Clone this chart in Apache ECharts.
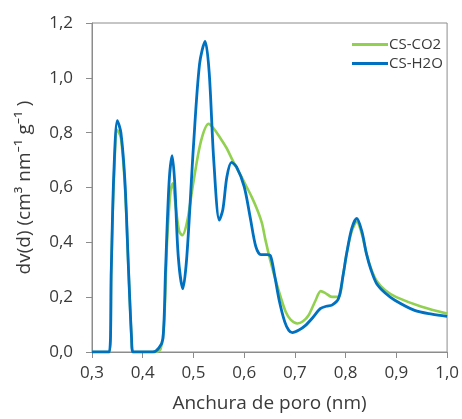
<!DOCTYPE html>
<html>
<head>
<meta charset="utf-8">
<script src="https://cdn.jsdelivr.net/npm/echarts@6/dist/echarts.min.js"></script>
<style>html,body{margin:0;padding:0;background:#fff}#c{width:462px;height:419px}</style>
</head>
<body>
<div id="c"></div>
<script>
const seriesNames = ["CS-CO2", "CS-H2O"];
const xTicks = [0.3, 0.4, 0.5, 0.6, 0.7, 0.8, 0.9, 1.0];
const yTicks = [0.0, 0.2, 0.4, 0.6, 0.8, 1.0, 1.2];

const co2X = [0.30,0.334,0.338,0.343,0.350,0.357,0.365,0.372,0.378,0.381,0.425,0.435,0.442,0.448,0.455,0.459,0.465,0.472,0.478,0.488,0.500,0.515,0.530,0.540,0.551,0.565,0.577,0.590,0.603,0.615,0.626,0.635,0.642,0.652,0.662,0.672,0.682,0.692,0.705,0.716,0.727,0.740,0.751,0.760,0.773,0.786,0.795,0.802,0.812,0.822,0.832,0.841,0.850,0.861,0.878,0.900,0.950,1.0];
const co2Y = [0,0,0.3,0.62,0.81,0.78,0.60,0.3,0.05,0,0,0.01,0.1,0.4,0.59,0.615,0.53,0.44,0.426,0.48,0.62,0.77,0.832,0.815,0.786,0.745,0.70,0.655,0.609,0.565,0.518,0.47,0.408,0.33,0.262,0.2,0.146,0.117,0.104,0.112,0.134,0.185,0.222,0.215,0.201,0.201,0.28,0.359,0.44,0.475,0.43,0.36,0.305,0.26,0.225,0.20,0.165,0.140];

const h2oX = [0.30,0.334,0.338,0.343,0.350,0.357,0.365,0.372,0.378,0.381,0.42,0.432,0.440,0.445,0.452,0.458,0.463,0.470,0.479,0.487,0.500,0.512,0.523,0.531,0.540,0.551,0.558,0.566,0.575,0.585,0.600,0.612,0.623,0.633,0.645,0.652,0.660,0.669,0.680,0.688,0.695,0.708,0.721,0.735,0.750,0.762,0.773,0.786,0.795,0.802,0.812,0.822,0.832,0.841,0.850,0.861,0.878,0.897,0.936,0.97,1.0];
const h2oY = [0,0,0.3,0.65,0.844,0.80,0.62,0.3,0.05,0,0,0.015,0.05,0.3,0.62,0.716,0.62,0.35,0.231,0.35,0.75,1.05,1.133,1.02,0.70,0.481,0.52,0.64,0.692,0.675,0.603,0.49,0.384,0.355,0.355,0.350,0.28,0.189,0.11,0.079,0.071,0.08,0.097,0.125,0.158,0.167,0.171,0.195,0.28,0.359,0.45,0.487,0.44,0.359,0.30,0.25,0.215,0.189,0.152,0.138,0.130];

const zip = (xs, ys) => xs.map((x, i) => [x, ys[i]]);
const fmt = v => v.toFixed(1).replace('.', ',');
const FONT = "'Open Sans', 'Noto Sans', sans-serif";
const axisGray = '#8c8c8c';
const textColor = '#3a3a3a';

const chart = echarts.init(document.getElementById('c'), null, {renderer: 'canvas'});
chart.setOption({
  animation: false,
  backgroundColor: '#fff',
  grid: {left: 92, right: 13, top: 23, bottom: 67, show: true, borderColor: axisGray, borderWidth: 1},
  legend: {
    orient: 'vertical', left: 347, top: 32,
    itemWidth: 36, itemHeight: 3, itemGap: 4, icon: 'rect',
    textStyle: {fontFamily: FONT, fontSize: 15, color: textColor, padding: [0,0,0,-4]},
    data: seriesNames
  },
  xAxis: {
    type: 'value', min: xTicks[0], max: xTicks[xTicks.length-1], interval: 0.1,
    axisLine: {show: true, onZero: false, lineStyle: {color: axisGray}},
    axisTick: {show: true, length: 6, lineStyle: {color: axisGray}},
    splitLine: {show: false},
    axisLabel: {formatter: fmt, fontFamily: FONT, fontSize: 17, color: textColor, margin: 13},
    name: 'Anchura de poro (nm)', nameLocation: 'middle', nameGap: 42,
    nameTextStyle: {fontFamily: FONT, fontSize: 19, color: textColor}
  },
  yAxis: {
    type: 'value', min: yTicks[0], max: yTicks[yTicks.length-1], interval: 0.2,
    axisLine: {show: true, lineStyle: {color: axisGray}},
    axisTick: {show: true, length: 6, lineStyle: {color: axisGray}},
    splitLine: {show: false},
    axisLabel: {formatter: fmt, fontFamily: FONT, fontSize: 17, color: textColor, margin: 19},
    name: 'dv(d) (cm³ nm⁻¹ g⁻¹ )', nameLocation: 'middle', nameGap: 58,
    nameTextStyle: {fontFamily: FONT, fontSize: 19, color: textColor}
  },
  series: [
    {name: seriesNames[0], type: 'line', data: zip(co2X, co2Y), smooth: 0.3, symbol: 'none',
     lineStyle: {color: '#92D050', width: 2.6}, itemStyle: {color: '#92D050'}},
    {name: seriesNames[1], type: 'line', data: zip(h2oX, h2oY), smooth: 0.3, symbol: 'none',
     lineStyle: {color: '#0070C0', width: 2.8}, itemStyle: {color: '#0070C0'}}
  ]
});
</script>
</body>
</html>
